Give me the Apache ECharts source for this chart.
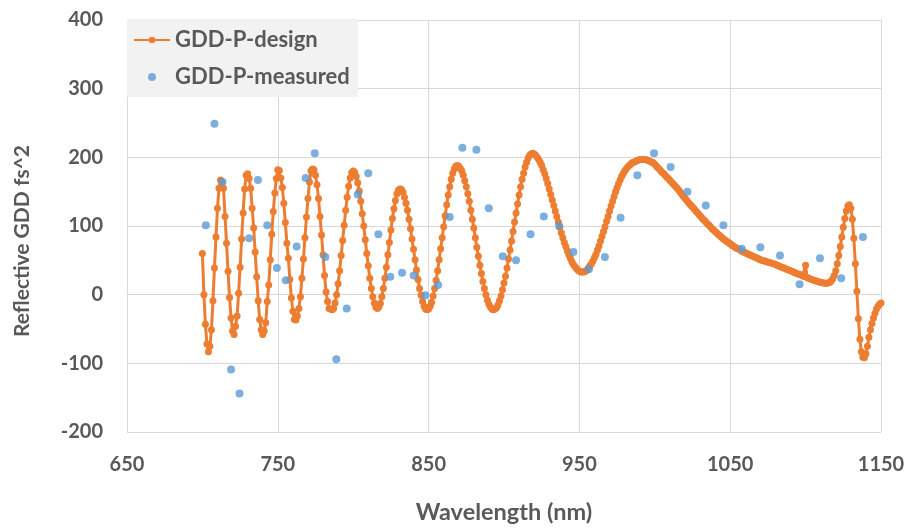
<!DOCTYPE html>
<html>
<head>
<meta charset="utf-8">
<script src="https://cdn.jsdelivr.net/npm/echarts@6/dist/echarts.min.js"></script>
<style>
html,body{margin:0;padding:0;background:#fff;}
#chart{width:909px;height:529px;}
</style>
</head>
<body>
<div id="chart"></div>
<script>
// Design curve (nm, fs^2)
const designWavelength = [
700,701,702,703,704,705,706,707,708,709,710,711,712,713,714,715,716,717,718,719,
720,721,722,723,724,725,726,727,728,729,730,731,732,733,734,735,736,737,738,739,
740,741,742,743,744,745,746,747,748,749,750,751,752,753,754,755,756,757,758,759,
760,761,762,763,764,765,766,767,768,769,770,771,772,773,774,775,776,777,778,779,
780,781,782,783,784,785,
786,787,788,789,790,791,792,793,794,795,796,797,798,799,800,
801,802,803,804,805,806,807,808,809,810,811,812,813,814,815,816,
817,818,819,820,821,822,823,824,825,826,827,828,829,830,831,
832,833,834,835,836,837,838,839,840,841,842,843,844,845,846,847,848,849,
850,851,852,853,854,855,856,857,858,859,860,861,862,863,864,865,866,867,868,869,
870,871,872,873,874,875,876,877,878,879,880,881,882,883,884,885,886,887,888,889,890,891,892,893,
894,895,896,897,898,899,900,901,902,903,904,905,906,907,908,909,910,911,912,913,914,915,916,917,918,919,
920,921,922,923,924,925,926,927,928,929,930,931,932,933,934,935,936,937,938,939,940,941,942,943,944,945,946,947,948,949,950,951,952,953,
954,955,956,957,958,959,960,961,962,963,964,965,966,967,968,969,970,971,972,973,974,975,976,977,978,979,980,981,982,983,984,985,986,987,988,989,990,991,992,993,
994,995,996,997,998,999,1000,1001,1002,1003,
1004,1005,1006,1007,1008,1009,1010,1011,1012,1013,
1014,1015,1016,1017,1018,1019,1020,1021,1022,1023,
1024,1025,1026,1027,1028,1029,1030,1031,1032,1033,
1034,1035,1036,1037,1038,1039,1040,1041,1042,1043,
1044,1045,1046,1047,1048,1049,1050,1051,1052,1053,
1054,1055,1056,1057,1058,1059,1060,1061,1062,1063,
1064,1065,1066,1067,1068,1069,1070,1071,1072,1073,
1074,1075,1076,1077,1078,1079,1080,1081,1082,1083,
1084,1085,1086,1087,1088,1089,1090,1091,1092,1093,
1094,1095,1096,1097,1098,1099,1100,1101,1102,1103,
1104,1105,1106,1107,1108,1109,1110,1111,1112,1113,
1114,1115,1116,1117,1118,1119,1120,1121,1122,1123,
1124,1125,1126,1127,1128,1129,1130,1131,1132,1133,
1134,1135,1136,1137,1138,1139,1140,1141,1142,1143,
1144,1145,1146,1147,1148,1149,1150
];
const designGDD = [
60,0,-43,-72,-83,-75,-51,-9,39,84,126,155,167,164,155,114,75,34,-4,-34,
-53,-58,-46,-31,2,40,81,119,154,174,176,169,155,126,97,62,26,-9,-36,-51,
-58,-53,-41,-10,14,51,88,121,148,169,182,181,170,156,133,105,75,53,22,-5,
-24,-36,-37,-31,-20,-3,24,52,83,113,140,164,180,183,182,174,160,140,114,87,
58,28,4,-10,-20,-21,
-22,-20,-12,0,16,35,57,79,101,123,142,158,170,178,180,
178,172,163,151,136,118,100,80,60,42,24,9,-3,-12,-18,-20,
-18,-13,-3,9,24,40,58,76,94,111,125,137,147,152,154,
153,149,142,133,123,110,96,81,66,51,36,22,9,-1,-10,-17,-21,-22,
-21,-17,-11,-2,9,21,35,51,67,83,99,115,131,145,157,168,177,183,187,188,
187,184,180,174,166,157,147,136,123,110,97,83,69,56,43,31,19,9,0,-8,-14,-18,-21,-22,
-21,-19,-15,-9,-2,7,17,27,39,52,65,78,92,106,119,132,145,157,168,177,186,193,199,203,205,206,
205,203,200,197,193,188,182,176,169,162,154,146,138,130,122,114,106,98,90,83,76,70,64,58,53,48,44,41,38,36,34,33,33,33,
34,36,39,42,45,49,54,59,65,71,78,85,92,99,107,114,122,129,136,143,150,156,162,167,172,176,180,183,186,188,190,192,193,194,195,196,196.5,197,197,197,
196.5,196,195,194,193,192,190,187.5,185,183,
180,178,176,173.5,171,169,166.5,164,162,159.5,
157,154.5,152,149,146,143,140.5,138,135,132.5,
130,127.5,125,122.5,120,117.5,115,112.5,110,108,
105.5,103,101,98.5,96,94,92,90,88,86,
84,82,80.5,79,77,75.5,74,72.5,71,69.5,
68,67,66,64.5,63,62,61,60,59,58,
57,56,55,54,53,52,51,50,49.5,49,
48,47.5,47,46,45.5,45,44,43,42,41,
40,39.5,38.5,37.5,36.5,35.5,35,34,33,32,
31,30,29.5,28.5,27.5,26.5,43,25,24,23,
22,21.5,20.5,20,19,18.5,18,17.5,17,16.5,
16.5,17,18,20,23,28,35,45,57,70,
84,98,111,122,129,131,126,110,82,45,
5,-35,-65,-83,-91,-92,-86,-75,-62,-51,
-42,-34,-27,-21,-17,-14,-12
];

// Measured points
const measuredWavelength = [
702.3,708,713.3,719,724.6,731,736.8,743,749.4,755.3,
762.5,768.5,774.5,781.5,788.8,795.7,803,810,816.7,824.6,
832.4,840.1,847.9,856.3,864,872.4,881.7,889.9,899.2,908,
917.6,926.4,936.6,946,956.3,966.9,977.3,988.4,999.5,1010.5,
1021.6,1033.8,1045.5,1057.7,1070,1083,1096,1109.5,1123.6,1138
];
const measuredGDD = [
101,249,164,-109,-144,82,167,101,39,21,
70,170,206,55,-94,-20,146,177,88,26,
32,28,-1,14,113,214,211,126,56,50,
88,114,100,62,37,55,112,174,206,186,
150,130,101,67,69,57,15,53,24,84
];

const seriesNames = ['GDD-P-design', 'GDD-P-measured'];
const xTicks = [650, 750, 850, 950, 1050, 1150];
const yTicks = [-200, -100, 0, 100, 200, 300, 400];

const chart = echarts.init(document.getElementById('chart'));
const gridColor = '#d9d9d9';
const textColor = '#595959';
const fontFam = 'Lato, "Open Sans", sans-serif';

chart.setOption({
  animation: false,
  backgroundColor: '#ffffff',
  grid: { left: 127, right: 28, top: 20, bottom: 92, containLabel: false },
  legend: {
    orient: 'vertical',
    left: 127,
    top: 19,
    backgroundColor: '#f2f2f2',
    padding: [10, 8, 9, 6],
    itemWidth: 36,
    itemHeight: 8,
    itemGap: 15,
    data: seriesNames,
    textStyle: { fontFamily: fontFam, fontWeight: 'bold', fontSize: 22, color: textColor }
  },
  xAxis: {
    type: 'value',
    min: xTicks[0],
    max: xTicks[xTicks.length - 1],
    interval: 100,
    name: 'Wavelength (nm)',
    nameLocation: 'middle',
    nameGap: 68,
    nameTextStyle: { fontFamily: fontFam, fontWeight: 'bold', fontSize: 23.5, color: textColor },
    axisLine: { show: true, lineStyle: { color: gridColor } },
    axisTick: { show: false },
    axisLabel: { margin: 23, fontFamily: fontFam, fontWeight: 'bold', fontSize: 20, color: textColor,
                 formatter: function (v) { return String(v); } },
    splitLine: { show: true, lineStyle: { color: gridColor, width: 1 } }
  },
  yAxis: {
    type: 'value',
    min: yTicks[0],
    max: yTicks[yTicks.length - 1],
    interval: 100,
    name: 'Reflective GDD fs^2',
    nameLocation: 'middle',
    nameRotate: 90,
    nameGap: 94,
    nameTextStyle: { fontFamily: fontFam, fontWeight: 'bold', fontSize: 21, color: textColor,
                     padding: [0, 30, 0, 0] },
    axisLine: { show: true, lineStyle: { color: gridColor } },
    axisTick: { show: false },
    axisLabel: { margin: 24, fontFamily: fontFam, fontWeight: 'bold', fontSize: 20, color: textColor,
                 formatter: function (v) { return String(v); } },
    splitLine: { show: true, lineStyle: { color: gridColor, width: 1 } }
  },
  series: [
    {
      name: seriesNames[0],
      type: 'line',
      data: designWavelength.map((w, i) => [w, designGDD[i]]),
      symbol: 'circle',
      symbolSize: 7,
      showSymbol: true,
      showAllSymbol: true,
      color: '#ed7d31',
      itemStyle: { color: '#ed7d31' },
      lineStyle: { color: '#ed7d31', width: 3 },
      z: 2
    },
    {
      name: seriesNames[1],
      type: 'scatter',
      data: measuredWavelength.map((w, i) => [w, measuredGDD[i]]),
      symbol: 'circle',
      symbolSize: 8,
      color: '#5b9bd5',
      itemStyle: { color: '#5b9bd5' },
      z: 3
    }
  ]
});
</script>
</body>
</html>
